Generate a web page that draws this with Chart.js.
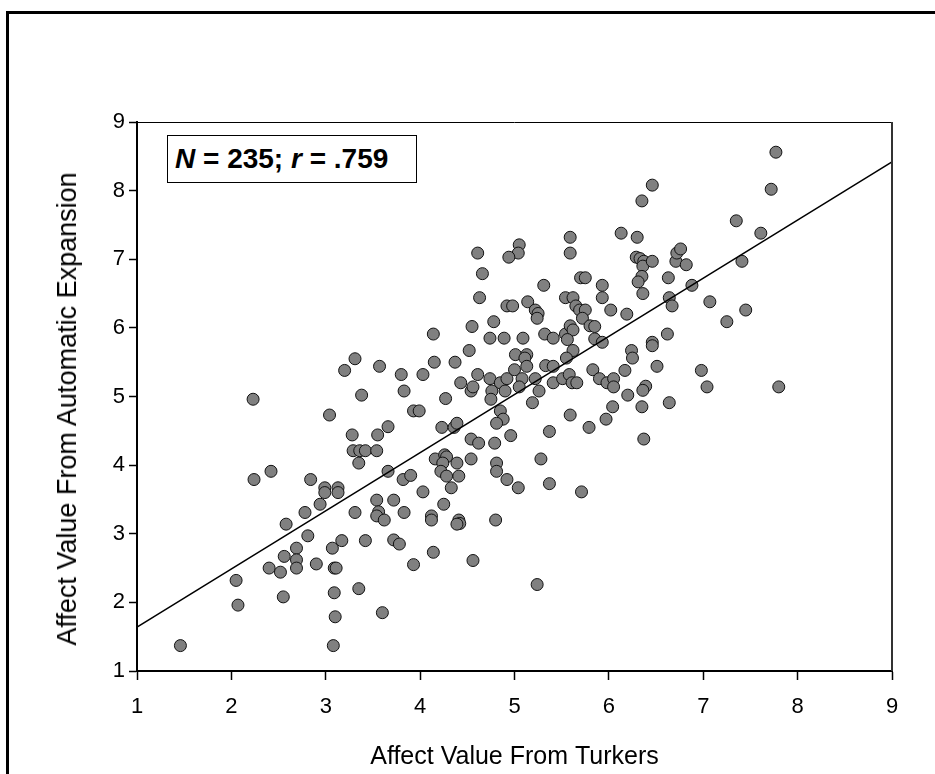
<!DOCTYPE html>
<html>
<head>
<meta charset="utf-8">
<script src="https://cdn.jsdelivr.net/npm/chart.js@4.4.0/dist/chart.umd.min.js"></script>
<style>
  html, body { margin: 0; padding: 0; background: #fff; overflow: hidden; }
  #wrap { position: relative; width: 935px; height: 774px; }
  #frame { position: absolute; left: 6px; top: 11px; width: 1000px; height: 900px; border: 3px solid #000; box-sizing: border-box; }
  #stats { position: absolute; left: 167px; top: 135px; width: 250px; height: 48px; box-sizing: border-box;
           border: 1.5px solid #000; background: #fff; font: bold 28px "Liberation Sans", Arial, sans-serif;
           line-height: 45px; padding-left: 7px; color: #000; white-space: nowrap; }
  #ytitle { position: absolute; left: 67px; top: 409px; transform: translate(-50%, -50%) rotate(-90deg);
            font: 27px "Liberation Sans", Arial, sans-serif; line-height: 30px; color: #000; white-space: nowrap; }
  canvas { position: absolute; left: 0; top: 0; }
</style>
</head>
<body>
<div id="wrap">
  <div id="frame"></div>
  <canvas id="scatter" width="935" height="774"></canvas>
  <div id="stats"><i>N</i> = 235; <i>r</i> = .759</div>
  <div id="ytitle">Affect Value From Automatic Expansion</div>
</div>
<script>
// values
const turkerX = [
  5.59,5.59,4.61,5.05,5.04,4.94,6.13,6.30,4.66,6.29, 6.33,6.37,6.36,6.35,5.70,5.75,5.31,5.93,6.35,6.31,
  6.36,4.63,4.92,4.98,5.14,5.22,5.25,5.24,5.54,5.62, 5.65,5.69,5.75,5.72,5.93,6.02,6.19,4.14,4.55,4.78,
  4.74,4.89,5.09,5.32,5.41,5.54,5.59,5.62,5.56,5.80, 5.85,5.85,5.93,4.52,4.15,4.37,5.01,5.13,5.11,5.62,
  5.55,6.24,6.25,7.77,7.72,6.46,7.35,7.61,6.46,6.71, 6.72,6.76,6.82,7.41,6.63,6.88,6.64,6.67,7.07,7.45,
  7.25,6.62,6.46,6.46,6.51,6.98,6.39,6.36,7.04,7.80, 6.64,6.35,6.37,3.80,4.03,3.83,4.27,3.93,3.99,4.61,
  4.43,4.54,4.56,4.74,4.76,4.75,4.85,4.92,4.90,5.00, 5.08,5.05,5.13,5.22,5.26,5.33,5.41,5.41,5.51,5.58,
  5.61,5.66,5.19,4.85,4.88,4.81,4.96,4.79,4.54,4.62, 4.23,4.36,4.39,4.16,4.26,4.28,4.24,4.39,4.22,4.28,
  4.41,4.54,4.33,4.03,3.82,3.90,3.72,3.83,4.25,4.12, 4.12,4.41,4.42,4.39,4.80,3.72,3.78,4.14,3.93,4.56,
  5.24,4.81,4.81,4.92,5.04,5.28,5.37,5.37,5.59,5.79, 5.71,5.97,6.04,6.20,5.83,5.90,5.98,6.05,6.05,6.17,
  3.31,3.20,3.57,2.23,3.38,3.04,3.66,3.28,3.55,3.29, 3.36,3.42,3.54,3.35,3.66,2.42,2.24,2.84,2.99,2.99,
  3.13,3.13,2.94,2.78,2.58,3.31,3.54,3.56,3.54,3.62, 2.81,2.69,2.56,2.69,2.69,2.40,2.52,2.90,3.07,3.17,
  3.09,3.11,3.42,2.05,2.07,2.55,3.09,3.35,3.10,3.60, 1.46,3.08
];
const expansionY = [
  7.32,7.09,7.09,7.21,7.09,7.03,7.38,7.32,6.79,7.03, 7.01,6.97,6.90,7.85,6.73,6.73,6.62,6.62,6.75,6.67,
  6.50,6.44,6.32,6.32,6.38,6.26,6.21,6.14,6.44,6.44, 6.32,6.26,6.26,6.14,6.44,6.26,6.20,5.91,6.02,6.09,
  5.85,5.85,5.85,5.91,5.85,5.91,6.03,5.97,5.83,6.03, 6.02,5.84,5.79,5.67,5.50,5.50,5.61,5.61,5.56,5.67,
  5.56,5.67,5.56,8.56,8.02,8.08,7.56,7.38,6.97,6.97, 7.09,7.15,6.92,6.97,6.73,6.62,6.44,6.32,6.38,6.26,
  6.09,5.91,5.79,5.74,5.44,5.38,5.15,5.09,5.14,5.14, 4.91,4.85,4.38,5.32,5.32,5.08,4.97,4.79,4.79,5.32,
  5.20,5.08,5.14,5.26,5.08,4.96,5.20,5.26,5.08,5.39, 5.26,5.14,5.44,5.26,5.08,5.45,5.44,5.20,5.26,5.32,
  5.20,5.20,4.91,4.79,4.67,4.61,4.43,4.32,4.38,4.32, 4.55,4.55,4.61,4.09,4.15,4.12,4.03,4.03,3.91,3.84,
  3.84,4.09,3.67,3.61,3.79,3.85,3.49,3.31,3.43,3.26, 3.20,3.20,3.15,3.14,3.20,2.91,2.85,2.73,2.55,2.61,
  2.26,4.03,3.91,3.79,3.67,4.09,4.49,3.73,4.73,4.55, 3.61,4.67,4.85,5.02,5.39,5.26,5.20,5.26,5.14,5.38,
  5.55,5.38,5.44,4.96,5.02,4.73,4.56,4.44,4.44,4.21, 4.21,4.21,4.21,4.03,3.91,3.91,3.79,3.79,3.67,3.60,
  3.67,3.60,3.43,3.31,3.14,3.31,3.49,3.32,3.26,3.20, 2.97,2.79,2.67,2.62,2.50,2.50,2.44,2.56,2.79,2.90,
  2.50,2.50,2.90,2.32,1.96,2.08,2.14,2.20,1.79,1.85, 1.37,1.37
];
// fitted line, end points
const fitX = [1, 9];
const fitY = [1.64, 8.42];
const axisTicks = [1, 2, 3, 4, 5, 6, 7, 8, 9];

const FONT = '"Liberation Sans", Arial, sans-serif';

const plotBox = {
  id: 'plotBox',
  afterDraw(chart) {
    const { ctx, chartArea: a } = chart;
    ctx.save();
    ctx.strokeStyle = '#000';
    ctx.lineWidth = 1;
    ctx.beginPath();
    ctx.moveTo(a.left, a.top + 0.5);
    ctx.lineTo(a.right, a.top + 0.5);
    ctx.stroke();
    ctx.strokeStyle = '#333';
    ctx.lineWidth = 2;
    ctx.beginPath();
    ctx.moveTo(a.right, a.top);
    ctx.lineTo(a.right, a.bottom);
    ctx.stroke();
    ctx.restore();
  }
};

const ctx = document.getElementById('scatter').getContext('2d');
const scatterChart = new Chart(ctx, {
  type: 'scatter',
  data: {
    datasets: [
      {
        label: 'fit',
        data: fitX.map((x, i) => ({ x: x, y: fitY[i] })),
        showLine: true,
        borderColor: '#000',
        borderWidth: 1.5,
        pointRadius: 0,
        fill: false
      },
      {
        label: 'words',
        data: turkerX.map((x, i) => ({ x: x, y: expansionY[i] })),
        backgroundColor: '#808080',
        borderColor: '#111',
        borderWidth: 1,
        pointRadius: 6
      }
    ]
  },
  options: {
    responsive: false,
    animation: false,
    layout: { padding: { left: 49, top: 122, right: 43, bottom: 0 } },
    plugins: { legend: { display: false }, tooltip: { enabled: false } },
    scales: {
      x: {
        type: 'linear', min: 1, max: 9,
        afterBuildTicks: (s) => { s.ticks = axisTicks.map(v => ({ value: v })); },
        afterFit: (s) => { s.height = 103; },
        ticks: { color: '#000', font: { family: FONT, size: 22 }, padding: 14 },
        grid: { drawOnChartArea: false, drawTicks: true, tickLength: 9, tickColor: '#000', tickWidth: 1.5 },
        border: { color: '#000', width: 2 },
        title: { display: true, text: 'Affect Value From Turkers', color: '#000',
                 font: { family: FONT, size: 25 }, padding: { top: 4, bottom: 2 } }
      },
      y: {
        type: 'linear', min: 1, max: 9,
        afterBuildTicks: (s) => { s.ticks = axisTicks.map(v => ({ value: v })); },
        afterFit: (s) => { s.width = 88; },
        ticks: { color: '#000', font: { family: FONT, size: 22 }, padding: 4 },
        grid: { drawOnChartArea: false, drawTicks: true, tickLength: 8, tickColor: '#000', tickWidth: 1.5 },
        border: { color: '#000', width: 2 },
        title: { display: false }
      }
    }
  },
  plugins: [plotBox]
});
</script>
</body>
</html>
